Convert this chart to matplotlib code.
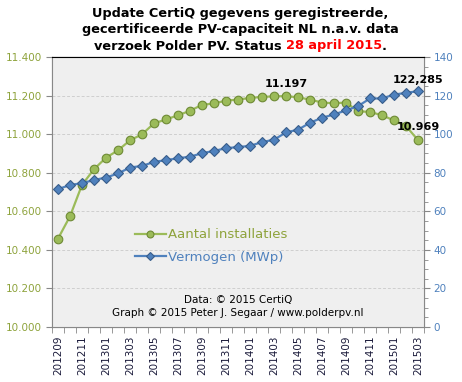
import numpy as np
import matplotlib
matplotlib.use('Agg')
import matplotlib.pyplot as plt
from matplotlib.ticker import MultipleLocator, FixedLocator, FuncFormatter

months = ['201209', '201210', '201211', '201212',
          '201301', '201302', '201303', '201304', '201305', '201306',
          '201307', '201308', '201309', '201310', '201311', '201312',
          '201401', '201402', '201403', '201404', '201405', '201406',
          '201407', '201408', '201409', '201410', '201411', '201412',
          '201501', '201502', '201503']

# Aantal installaties (left axis)
installaties = [10458, 10574, 10737, 10818, 10878, 10916, 10968, 10999, 11056, 11076,
                11098, 11121, 11152, 11159, 11174, 11179, 11188, 11193, 11196, 11197,
                11191, 11179, 11164, 11160, 11164, 11119, 11115, 11098, 11071, 11042,
                10969]

# Vermogen in MWp (right axis)
vermogen = [71.5, 73.6, 74.6, 76.2, 77.5, 79.6, 82.7, 83.5, 85.6, 86.5,
            87.5, 88.3, 90.1, 91.3, 92.7, 93.3, 93.9, 95.9, 97.1, 100.9,
            102.3, 105.9, 108.5, 110.2, 112.3, 114.5, 118.5, 118.5, 120.5, 121.4,
            122.285]

green = '#9BBB59'
green_edge = '#6E8A35'
green_txt = '#8EA33C'
blue = '#4F81BD'
blue_edge = '#385D8A'

x = np.arange(len(months))

fig = plt.figure(figsize=(4.62, 3.82), dpi=100)
fig.patch.set_facecolor('white')
ax = fig.add_axes([52 / 462, 1 - 327 / 382, 372 / 462, 270 / 382])
ax2 = ax.twinx()
ax.set_facecolor('#EFEFEF')
ax.set_zorder(2)
ax2.set_zorder(1)

ax.set_xlim(-0.5, len(months) - 0.5)
ax.set_ylim(10000, 11400)
ax2.set_ylim(0, 140)

l1, = ax.plot(x, installaties, color=green, lw=1.6, marker='o', ms=6.2,
              mfc=green, mec=green_edge, mew=0.8, zorder=3, label='Aantal installaties')
# blue series belongs to the right axis; drawn in ax2 data coords on the front axes
l2, = ax.plot(x, vermogen, color=blue, lw=1.6, marker='D', ms=5.6,
              mfc=blue, mec=blue_edge, mew=0.8, zorder=4, label='Vermogen (MWp)',
              transform=ax2.transData)

ax.yaxis.set_major_locator(MultipleLocator(200))
ax.yaxis.set_major_formatter(FuncFormatter(lambda v, p: f'{v:,.0f}'.replace(',', '.')))
ax.grid(axis='y', color='#CFCFCF', ls=(0, (3, 2)), lw=0.7)
ax.set_axisbelow(True)

ax2.yaxis.set_major_locator(MultipleLocator(20))
ax2.yaxis.set_minor_locator(MultipleLocator(5))

ax.xaxis.set_major_locator(FixedLocator(x[::2]))
ax.set_xticklabels(months[::2], rotation=90, fontsize=7.5, color='#1A1A3A')
ax.xaxis.set_minor_locator(FixedLocator(np.arange(len(months) + 1) - 0.5))
ax.tick_params(axis='x', which='major', length=0, pad=6)
ax.tick_params(axis='x', which='minor', length=4, color='#888888', direction='out')
ax.tick_params(axis='y', which='major', length=4, color='#888888', labelsize=7.5,
               labelcolor=green_txt, pad=3)
ax2.tick_params(axis='y', which='major', length=4, color='#888888', labelsize=7.5,
                labelcolor=blue, pad=3)
ax2.tick_params(axis='y', which='minor', length=3, color='#888888')

for a in (ax, ax2):
    for side in ('left', 'right', 'bottom'):
        a.spines[side].set_color('#888888')
    a.spines['top'].set_color('black')

# annotations
ax.text(19, installaties[19] + 35, '11.197', ha='center', va='bottom', fontsize=8,
        fontweight='bold')
ax.text(30, vermogen[-1] + 3.2, '122,285', ha='center', va='bottom', fontsize=8,
        fontweight='bold', clip_on=False, transform=ax2.transData, zorder=6)
ax.text(30, installaties[-1] + 40, '10.969', ha='center', va='bottom', fontsize=8,
        fontweight='bold', clip_on=False, zorder=6)

leg = ax.legend(handles=[l1, l2], loc='center left', bbox_to_anchor=(0.19, 0.30),
                frameon=False, fontsize=9.5, markerscale=0.8, handlelength=2.4,
                handletextpad=0.1, labelspacing=0.7)
leg.get_texts()[0].set_color(green_txt)
leg.get_texts()[1].set_color(blue)

ax.text(0.5, 0.10, 'Data: \u00a9 2015 CertiQ', transform=ax.transAxes, ha='center',
        va='center', fontsize=7.5)
ax.text(0.5, 0.052, 'Graph \u00a9 2015 Peter J. Segaar / www.polderpv.nl',
        transform=ax.transAxes, ha='center', va='center', fontsize=7.5)

# title, last line has a red part
tkw = dict(fontsize=9.3, fontweight='bold', va='center')
fig.text(0.52, 1 - 13 / 382, 'Update CertiQ gegevens geregistreerde,', ha='center', **tkw)
fig.text(0.52, 1 - 30 / 382, 'gecertificeerde PV-capaciteit NL n.a.v. data', ha='center', **tkw)

fig.canvas.draw()
r = fig.canvas.get_renderer()
parts = [('verzoek Polder PV. Status ', 'black'), ('28 april 2015', '#FF0000'), ('.', 'black')]
texts = [fig.text(0, 1 - 46 / 382, s, color=c, ha='left', **tkw) for s, c in parts]
widths = [t.get_window_extent(r).width for t in texts]
start = 0.52 * fig.bbox.width - sum(widths) / 2
for t, w in zip(texts, widths):
    t.set_x(start / fig.bbox.width)
    start += w

fig.savefig('out.png', dpi=100, facecolor='white')
